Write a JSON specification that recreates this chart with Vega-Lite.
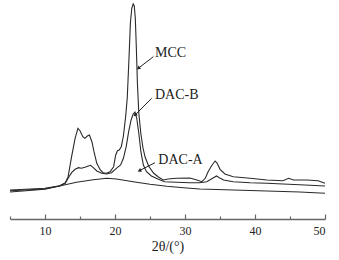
{
  "$schema": "https://vega.github.io/schema/vega-lite/v6.json",
  "width": 315,
  "height": 219,
  "autosize": {"type": "none"},
  "padding": {"left": 10, "top": 0, "right": 14, "bottom": 41},
  "background": "white",
  "config": {"view": {"stroke": null}},
  "resolve": {"axis": {"x": "independent"}},
  "datasets": {
    "xrd": [
      {"sample": "MCC", "x": 5.0, "I": 28}, {"sample": "MCC", "x": 7.9, "I": 29}, {"sample": "MCC", "x": 10.0, "I": 29.7},
      {"sample": "MCC", "x": 12.1, "I": 32.3}, {"sample": "MCC", "x": 12.9, "I": 35.3}, {"sample": "MCC", "x": 13.3, "I": 41.3},
      {"sample": "MCC", "x": 13.8, "I": 61.3}, {"sample": "MCC", "x": 14.3, "I": 79.7}, {"sample": "MCC", "x": 14.7, "I": 89.7},
      {"sample": "MCC", "x": 15.0, "I": 87.3}, {"sample": "MCC", "x": 15.4, "I": 81.3}, {"sample": "MCC", "x": 15.7, "I": 79.7},
      {"sample": "MCC", "x": 16.05, "I": 82}, {"sample": "MCC", "x": 16.35, "I": 83}, {"sample": "MCC", "x": 16.7, "I": 76.3},
      {"sample": "MCC", "x": 17.0, "I": 66.3}, {"sample": "MCC", "x": 17.4, "I": 54.7}, {"sample": "MCC", "x": 17.9, "I": 48},
      {"sample": "MCC", "x": 18.3, "I": 45.3}, {"sample": "MCC", "x": 18.8, "I": 44.7}, {"sample": "MCC", "x": 19.3, "I": 46.3},
      {"sample": "MCC", "x": 19.8, "I": 51.3}, {"sample": "MCC", "x": 20.1, "I": 63}, {"sample": "MCC", "x": 20.35, "I": 67.3},
      {"sample": "MCC", "x": 20.6, "I": 68}, {"sample": "MCC", "x": 20.9, "I": 71.3}, {"sample": "MCC", "x": 21.2, "I": 82},
      {"sample": "MCC", "x": 21.5, "I": 100}, {"sample": "MCC", "x": 21.75, "I": 120}, {"sample": "MCC", "x": 22.0, "I": 160},
      {"sample": "MCC", "x": 22.2, "I": 195}, {"sample": "MCC", "x": 22.4, "I": 210}, {"sample": "MCC", "x": 22.6, "I": 214},
      {"sample": "MCC", "x": 22.75, "I": 212}, {"sample": "MCC", "x": 22.9, "I": 200}, {"sample": "MCC", "x": 23.05, "I": 170},
      {"sample": "MCC", "x": 23.2, "I": 135}, {"sample": "MCC", "x": 23.4, "I": 105}, {"sample": "MCC", "x": 23.7, "I": 84},
      {"sample": "MCC", "x": 24.0, "I": 70}, {"sample": "MCC", "x": 24.3, "I": 61}, {"sample": "MCC", "x": 24.8, "I": 52},
      {"sample": "MCC", "x": 25.5, "I": 45}, {"sample": "MCC", "x": 26.2, "I": 41}, {"sample": "MCC", "x": 26.9, "I": 38},
      {"sample": "MCC", "x": 27.6, "I": 39}, {"sample": "MCC", "x": 28.8, "I": 39.7}, {"sample": "MCC", "x": 30.7, "I": 40},
      {"sample": "MCC", "x": 31.7, "I": 38}, {"sample": "MCC", "x": 32.4, "I": 36.3}, {"sample": "MCC", "x": 32.9, "I": 39.7},
      {"sample": "MCC", "x": 33.3, "I": 46.3}, {"sample": "MCC", "x": 33.8, "I": 52.3}, {"sample": "MCC", "x": 34.3, "I": 57},
      {"sample": "MCC", "x": 34.6, "I": 54.7}, {"sample": "MCC", "x": 35.0, "I": 48.7}, {"sample": "MCC", "x": 35.7, "I": 44},
      {"sample": "MCC", "x": 36.9, "I": 41.3}, {"sample": "MCC", "x": 39.3, "I": 39.7}, {"sample": "MCC", "x": 41.7, "I": 38},
      {"sample": "MCC", "x": 44.0, "I": 37.3}, {"sample": "MCC", "x": 44.8, "I": 39.7}, {"sample": "MCC", "x": 45.5, "I": 38},
      {"sample": "MCC", "x": 47.4, "I": 38}, {"sample": "MCC", "x": 49.0, "I": 37.3}, {"sample": "MCC", "x": 50.0, "I": 34.7},

      {"sample": "DAC-B", "x": 5.0, "I": 27.3}, {"sample": "DAC-B", "x": 7.9, "I": 28.3}, {"sample": "DAC-B", "x": 10.0, "I": 29.3},
      {"sample": "DAC-B", "x": 12.1, "I": 32}, {"sample": "DAC-B", "x": 12.9, "I": 34.7}, {"sample": "DAC-B", "x": 13.3, "I": 39.7},
      {"sample": "DAC-B", "x": 13.8, "I": 45.3}, {"sample": "DAC-B", "x": 14.3, "I": 48.7}, {"sample": "DAC-B", "x": 14.8, "I": 50.3},
      {"sample": "DAC-B", "x": 15.2, "I": 49.7}, {"sample": "DAC-B", "x": 15.7, "I": 50.7}, {"sample": "DAC-B", "x": 16.2, "I": 52},
      {"sample": "DAC-B", "x": 16.5, "I": 52.7}, {"sample": "DAC-B", "x": 16.9, "I": 50.3}, {"sample": "DAC-B", "x": 17.4, "I": 47},
      {"sample": "DAC-B", "x": 18.1, "I": 44.7}, {"sample": "DAC-B", "x": 18.8, "I": 44}, {"sample": "DAC-B", "x": 19.5, "I": 45.3},
      {"sample": "DAC-B", "x": 20.2, "I": 49.7}, {"sample": "DAC-B", "x": 20.8, "I": 53}, {"sample": "DAC-B", "x": 21.2, "I": 59.7},
      {"sample": "DAC-B", "x": 21.6, "I": 71.3}, {"sample": "DAC-B", "x": 21.95, "I": 86.3}, {"sample": "DAC-B", "x": 22.3, "I": 98},
      {"sample": "DAC-B", "x": 22.6, "I": 104}, {"sample": "DAC-B", "x": 22.85, "I": 106}, {"sample": "DAC-B", "x": 23.1, "I": 100},
      {"sample": "DAC-B", "x": 23.4, "I": 84.7}, {"sample": "DAC-B", "x": 23.7, "I": 66.3}, {"sample": "DAC-B", "x": 24.05, "I": 53},
      {"sample": "DAC-B", "x": 24.5, "I": 46.3}, {"sample": "DAC-B", "x": 25.2, "I": 42}, {"sample": "DAC-B", "x": 26.2, "I": 38.7},
      {"sample": "DAC-B", "x": 27.1, "I": 36.3}, {"sample": "DAC-B", "x": 28.8, "I": 35.7}, {"sample": "DAC-B", "x": 30.7, "I": 35.3},
      {"sample": "DAC-B", "x": 32.1, "I": 35.3}, {"sample": "DAC-B", "x": 33.1, "I": 36.3}, {"sample": "DAC-B", "x": 33.95, "I": 39.7},
      {"sample": "DAC-B", "x": 34.5, "I": 42}, {"sample": "DAC-B", "x": 34.9, "I": 40.3}, {"sample": "DAC-B", "x": 35.5, "I": 38},
      {"sample": "DAC-B", "x": 36.9, "I": 36.3}, {"sample": "DAC-B", "x": 39.3, "I": 35.3}, {"sample": "DAC-B", "x": 41.7, "I": 34.7},
      {"sample": "DAC-B", "x": 44.0, "I": 34}, {"sample": "DAC-B", "x": 46.4, "I": 33.3}, {"sample": "DAC-B", "x": 50.0, "I": 32},

      {"sample": "DAC-A", "x": 5.0, "I": 26}, {"sample": "DAC-A", "x": 10.0, "I": 28.7}, {"sample": "DAC-A", "x": 12.1, "I": 32},
      {"sample": "DAC-A", "x": 14.5, "I": 35.7}, {"sample": "DAC-A", "x": 16.9, "I": 38.3}, {"sample": "DAC-A", "x": 18.8, "I": 39.7},
      {"sample": "DAC-A", "x": 20.2, "I": 39}, {"sample": "DAC-A", "x": 22.6, "I": 36.3}, {"sample": "DAC-A", "x": 25.0, "I": 33.7},
      {"sample": "DAC-A", "x": 27.4, "I": 31.7}, {"sample": "DAC-A", "x": 29.8, "I": 30.3}, {"sample": "DAC-A", "x": 32.1, "I": 29},
      {"sample": "DAC-A", "x": 36.9, "I": 28}, {"sample": "DAC-A", "x": 41.7, "I": 27}, {"sample": "DAC-A", "x": 46.4, "I": 26},
      {"sample": "DAC-A", "x": 50.0, "I": 24.7}
    ],
    "labels": [
      {"label": "MCC", "x": 25.71, "I": 164.7},
      {"label": "DAC-B", "x": 25.71, "I": 123},
      {"label": "DAC-A", "x": 26.19, "I": 58}
    ],
    "arrows": [
      {"label": "MCC", "x": 25.48, "I": 161.3, "x2": 23.33, "I2": 149.7},
      {"label": "DAC-B", "x": 25.24, "I": 119.7, "x2": 22.86, "I2": 103},
      {"label": "DAC-A", "x": 25.71, "I": 55.3, "x2": 23.48, "I2": 47.3}
    ]
  },
  "layer": [
    {
      "data": {"name": "xrd"},
      "mark": {"type": "line", "strokeWidth": 1.1, "color": "#2a2a2a"},
      "encoding": {
        "x": {
          "field": "x", "type": "quantitative",
          "scale": {"domain": [5, 50], "nice": false},
          "axis": {
            "orient": "bottom",
            "title": "2θ/(°)",
            "values": [10, 20, 30, 40, 50],
            "grid": false,
            "domainColor": "#666666", "domainWidth": 1.5,
            "tickColor": "#666666", "tickWidth": 1.2, "tickSize": -5,
            "labelFont": "Liberation Serif", "labelFontSize": 12, "labelColor": "#222222",
            "labelPadding": 11,
            "titleFont": "Liberation Serif", "titleFontSize": 14, "titleFontWeight": "normal", "titleColor": "#222222",
            "titlePadding": 3
          }
        },
        "y": {
          "field": "I", "type": "quantitative",
          "scale": {"domain": [-1, 218], "nice": false, "zero": false},
          "axis": null
        },
        "detail": {"field": "sample"},
        "order": {"field": "x", "type": "quantitative"}
      }
    },
    {
      "data": {"name": "labels"},
      "mark": {"type": "text", "align": "left", "baseline": "middle", "font": "Liberation Serif", "fontSize": 14, "color": "#222222"},
      "encoding": {
        "x": {
          "field": "x", "type": "quantitative",
          "axis": {
            "orient": "bottom",
            "title": null,
            "values": [5, 15, 25, 35, 45],
            "labels": false,
            "grid": false,
            "domain": false,
            "tickColor": "#666666", "tickWidth": 1.2, "tickSize": -3
          }
        },
        "y": {"field": "I", "type": "quantitative"},
        "text": {"field": "label"}
      }
    },
    {
      "data": {"name": "arrows"},
      "mark": {"type": "rule", "strokeWidth": 1, "color": "#222222"},
      "encoding": {
        "x": {"field": "x", "type": "quantitative", "axis": null},
        "y": {"field": "I", "type": "quantitative"},
        "x2": {"field": "x2"},
        "y2": {"field": "I2"}
      }
    },
    {
      "data": {"name": "arrows"},
      "transform": [{"filter": "datum.label === 'MCC'"}],
      "mark": {"type": "point", "shape": "triangle-up", "filled": true, "size": 18, "angle": 232, "color": "#222222", "opacity": 1},
      "encoding": {
        "x": {"field": "x2", "type": "quantitative", "axis": null},
        "y": {"field": "I2", "type": "quantitative"}
      }
    },
    {
      "data": {"name": "arrows"},
      "transform": [{"filter": "datum.label === 'DAC-B'"}],
      "mark": {"type": "point", "shape": "triangle-up", "filled": true, "size": 18, "angle": 225, "color": "#222222", "opacity": 1},
      "encoding": {
        "x": {"field": "x2", "type": "quantitative", "axis": null},
        "y": {"field": "I2", "type": "quantitative"}
      }
    },
    {
      "data": {"name": "arrows"},
      "transform": [{"filter": "datum.label === 'DAC-A'"}],
      "mark": {"type": "point", "shape": "triangle-up", "filled": true, "size": 18, "angle": 243, "color": "#222222", "opacity": 1},
      "encoding": {
        "x": {"field": "x2", "type": "quantitative", "axis": null},
        "y": {"field": "I2", "type": "quantitative"}
      }
    }
  ]
}
